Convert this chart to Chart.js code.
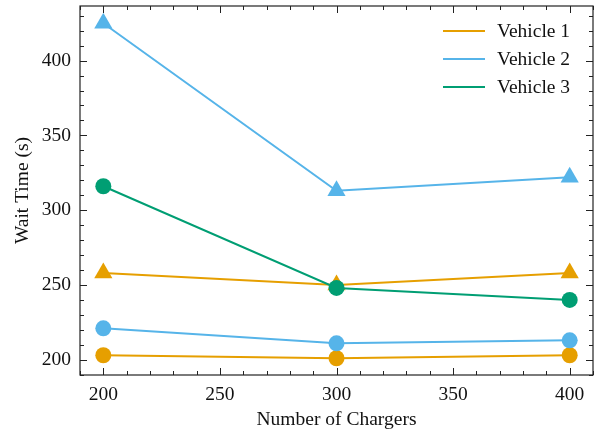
<!DOCTYPE html>
<html>
<head>
<meta charset="utf-8">
<script src="https://cdn.jsdelivr.net/npm/chart.js@4.4.1/dist/chart.umd.min.js"></script>
<style>
  html, body { margin: 0; padding: 0; background: #fff; }
  #wrap { width: 603px; height: 432px; }
</style>
</head>
<body>
<div id="wrap"><canvas id="myChart" width="603" height="432"></canvas></div>
<script>
// data
const chargers = [200, 300, 400];
const v1Circle = [203, 201, 203];
const v1Triangle = [258, 250, 258];
const v2Circle = [221, 211, 213];
const v2Triangle = [425, 313, 322];
const v3Circle = [316, 248, 240];
const xTicks = [200, 250, 300, 350, 400];
const yTicks = [200, 250, 300, 350, 400];
const legendNames = ['Vehicle 1', 'Vehicle 2', 'Vehicle 3'];
const colors = ['#E69F00', '#56B4E9', '#009E73'];

const serif = "'Liberation Serif', 'Times New Roman', serif";

// big markers would otherwise push the plot area down
Chart.LineController.prototype.getMaxOverflow = function () { return 0 };

function pts(vals) {
    return chargers.map((c, i) => ({ x: c, y: vals[i] }))
}

function series(label, vals, color, style, order) {
    return {
        label: label,
        data: pts(vals),
        borderColor: color,
        backgroundColor: color,
        borderWidth: 2,
        pointStyle: style,
        pointRadius: style == 'triangle' ? 10.5 : 8,
        pointBorderWidth: 0,
        pointHoverRadius: 8,
        clip: false,
        order: order
    }
}

// inward ticks on all four sides, frame, and the legend inside the plot
const frame = {
    id: 'frame',
    afterDraw(chart) {
        const ctx = chart.ctx;
        const a = chart.chartArea;
        const xs = chart.scales.x, ys = chart.scales.y;
        ctx.save();
        ctx.strokeStyle = '#222';
        ctx.lineWidth = 1.2;
        ctx.strokeRect(a.left, a.top, a.right - a.left, a.bottom - a.top);
        ctx.lineWidth = 1;
        ctx.beginPath();
        for (let v = Math.ceil(xs.min / 10) * 10; v <= xs.max; v += 10) {
            const px = Math.round(xs.getPixelForValue(v)) + 0.5;
            const len = v % 50 == 0 ? 7 : 4;
            ctx.moveTo(px, a.bottom); ctx.lineTo(px, a.bottom - len);
            ctx.moveTo(px, a.top); ctx.lineTo(px, a.top + len);
        }
        for (let v = Math.ceil(ys.min / 10) * 10; v <= ys.max; v += 10) {
            const py = Math.round(ys.getPixelForValue(v)) + 0.5;
            const len = v % 50 == 0 ? 7 : 4;
            ctx.moveTo(a.left, py); ctx.lineTo(a.left + len, py);
            ctx.moveTo(a.right, py); ctx.lineTo(a.right - len, py);
        }
        ctx.stroke();

        // legend
        ctx.font = '19.5px ' + serif;
        ctx.textBaseline = 'middle';
        ctx.fillStyle = '#111';
        legendNames.forEach((name, i) => {
            const y = 31 + i * 28;
            ctx.strokeStyle = colors[i];
            ctx.lineWidth = 2;
            ctx.beginPath();
            ctx.moveTo(443, y); ctx.lineTo(485, y);
            ctx.stroke();
            ctx.fillText(name, 497, y + 1);
        });
        ctx.restore();
    }
}

new Chart("myChart", {
    type: 'line',
    data: {
        datasets: [
            series('Vehicle 1', v1Circle, colors[0], 'circle', 5),
            series('Vehicle 1', v1Triangle, colors[0], 'triangle', 4),
            series('Vehicle 2', v2Circle, colors[1], 'circle', 3),
            series('Vehicle 2', v2Triangle, colors[1], 'triangle', 2),
            series('Vehicle 3', v3Circle, colors[2], 'circle', 1)
        ]
    },
    options: {
        responsive: false,
        animation: false,
        layout: { padding: { left: 0, right: 10, top: 6, bottom: 0 } },
        plugins: {
            legend: { display: false },
            tooltip: { enabled: false }
        },
        scales: {
            x: {
                type: 'linear',
                min: 190,
                max: 410,
                afterBuildTicks: s => { s.ticks = xTicks.map(v => ({ value: v })) },
                afterFit: s => { s.height = 57; s.paddingLeft = 0; s.paddingRight = 0 },
                grid: { display: false, drawTicks: false },
                border: { display: false },
                ticks: { color: '#111', padding: 8, font: { family: serif, size: 19.5 } },
                title: { display: true, text: 'Number of Chargers', color: '#111', padding: { top: 2, bottom: 0 }, font: { family: serif, size: 19.5 } }
            },
            y: {
                type: 'linear',
                min: 189.8,
                max: 436.5,
                afterBuildTicks: s => { s.ticks = yTicks.map(v => ({ value: v })) },
                afterFit: s => { s.width = 80; s.paddingTop = 0; s.paddingBottom = 0 },
                grid: { display: false, drawTicks: false },
                border: { display: false },
                ticks: { color: '#111', padding: 9, font: { family: serif, size: 19.5 } },
                title: { display: true, text: 'Wait Time (s)', color: '#111', padding: { top: 11, bottom: 0 }, font: { family: serif, size: 19.5 } }
            }
        }
    },
    plugins: [frame]
})
</script>
</body>
</html>
